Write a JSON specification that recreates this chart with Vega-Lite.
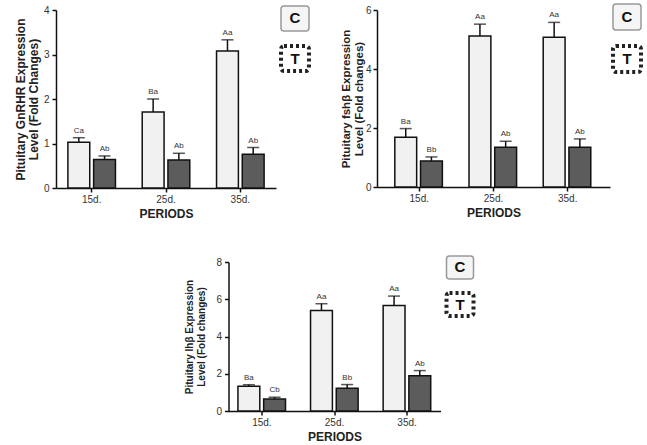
{
  "$schema": "https://vega.github.io/schema/vega-lite/v6.json",
  "background": "white",
  "padding": {"left": 14, "top": 3, "right": 0, "bottom": 0},
  "config": {
    "view": {"stroke": null},
    "font": "Liberation Sans",
    "axis": {"grid": false, "domainColor": "#111", "domainWidth": 1.5, "tickColor": "#111", "tickWidth": 1.5, "tickSize": 4, "labelOverlap": false,
      "labelFont": "Liberation Sans", "labelFontSize": 10, "labelColor": "#333", "titleFont": "Liberation Sans", "titleFontWeight": "bold", "titleColor": "#222"},
    "axisX": {"titleFontSize": 12, "titlePadding": 4, "labelAngle": 0, "labelPadding": 2},
    "axisY": {"titleFontSize": 11, "titleLineHeight": 13, "labelPadding": 3}
  },
  "datasets": {
    "gnrhr": [
      {"period": "15d.", "group": "C", "value": 1.03, "err": 1.13, "sig": "Ca"},
      {"period": "15d.", "group": "T", "value": 0.64, "err": 0.72, "sig": "Ab"},
      {"period": "25d.", "group": "C", "value": 1.71, "err": 2.0, "sig": "Ba"},
      {"period": "25d.", "group": "T", "value": 0.63, "err": 0.78, "sig": "Ab"},
      {"period": "35d.", "group": "C", "value": 3.08, "err": 3.33, "sig": "Aa"},
      {"period": "35d.", "group": "T", "value": 0.76, "err": 0.91, "sig": "Ab"}
    ],
    "fsh": [
      {"period": "15d.", "group": "C", "value": 1.69, "err": 1.98, "sig": "Ba"},
      {"period": "15d.", "group": "T", "value": 0.88, "err": 1.02, "sig": "Bb"},
      {"period": "25d.", "group": "C", "value": 5.12, "err": 5.52, "sig": "Aa"},
      {"period": "25d.", "group": "T", "value": 1.35, "err": 1.55, "sig": "Ab"},
      {"period": "35d.", "group": "C", "value": 5.08, "err": 5.58, "sig": "Aa"},
      {"period": "35d.", "group": "T", "value": 1.35, "err": 1.63, "sig": "Ab"}
    ],
    "lh": [
      {"period": "15d.", "group": "C", "value": 1.33, "err": 1.41, "sig": "Ba"},
      {"period": "15d.", "group": "T", "value": 0.64, "err": 0.74, "sig": "Cb"},
      {"period": "25d.", "group": "C", "value": 5.4, "err": 5.76, "sig": "Aa"},
      {"period": "25d.", "group": "T", "value": 1.22, "err": 1.42, "sig": "Bb"},
      {"period": "35d.", "group": "C", "value": 5.67, "err": 6.17, "sig": "Aa"},
      {"period": "35d.", "group": "T", "value": 1.89, "err": 2.17, "sig": "Ab"}
    ],
    "legend": [
      {"k": "a", "g": "C"},
      {"k": "a", "g": "T"}
    ]
  },
  "center": true,
  "spacing": 36,
  "vconcat": [
    {
      "spacing": 29,
      "hconcat": [
        {
          "spacing": 3,
          "hconcat": [
            {
              "width": 220, "height": 178,
              "data": {"name": "gnrhr"},
              "encoding": {
                "x": {"field": "period", "type": "nominal", "sort": ["15d.", "25d.", "35d."], "scale": {"paddingInner": 0.36, "paddingOuter": 0.16}, "axis": {"title": "PERIODS"}},
                "xOffset": {"field": "group", "type": "nominal", "sort": ["C", "T"], "scale": {"paddingInner": 0.15, "paddingOuter": 0}}
              },
              "layer": [
                {"mark": {"type": "bar", "stroke": "#111", "strokeWidth": 1.5},
                 "encoding": {
                   "y": {"field": "value", "type": "quantitative", "scale": {"domain": [0, 4]}, "axis": {"values": [0, 1, 2, 3, 4], "title": ["Pituitary GnRHR Expression", "Level (Fold Changes)"], "titlePadding": 3, "titleFontSize": 12}},
                   "fill": {"field": "group", "type": "nominal", "scale": {"domain": ["C", "T"], "range": ["#f1f1f1", "#5c5c5c"]}, "legend": null}}},
                {"mark": {"type": "rule", "color": "#111", "strokeWidth": 1.5},
                 "encoding": {"y": {"field": "value", "type": "quantitative", "axis": {"values": [0, 1, 2, 3, 4], "title": ["Pituitary GnRHR Expression", "Level (Fold Changes)"], "titlePadding": 3, "titleFontSize": 12}}, "y2": {"field": "err"}}},
                {"mark": {"type": "tick", "color": "#111", "thickness": 1.5, "size": 12},
                 "encoding": {"y": {"field": "err", "type": "quantitative", "axis": {"values": [0, 1, 2, 3, 4], "title": ["Pituitary GnRHR Expression", "Level (Fold Changes)"], "titlePadding": 3, "titleFontSize": 12}}}},
                {"mark": {"type": "text", "baseline": "bottom", "dy": -3, "fontSize": 8, "color": "#333"},
                 "encoding": {"y": {"field": "err", "type": "quantitative", "axis": {"values": [0, 1, 2, 3, 4], "title": ["Pituitary GnRHR Expression", "Level (Fold Changes)"], "titlePadding": 3, "titleFontSize": 12}}, "text": {"field": "sig"}}}
              ]
            },
            {
              "width": 28, "height": 65,
              "data": {"name": "legend"},
              "encoding": {
                "x": {"field": "k", "type": "nominal", "axis": null, "scale": {"paddingInner": 0, "paddingOuter": 0}},
                "y": {"field": "g", "type": "nominal", "axis": null, "scale": {"domain": ["C", "T"], "paddingInner": 0.38, "paddingOuter": 0, "range": [-4, 61]}}
              },
              "layer": [
                {"transform": [{"filter": "datum.g === 'C'"}], "mark": {"type": "rect", "fill": "#f5f5f5", "stroke": "#999", "strokeWidth": 1.5, "cornerRadius": 3}},
                {"transform": [{"filter": "datum.g === 'T'"}], "mark": {"type": "rect", "fill": "#ffffff", "stroke": "#222", "strokeWidth": 4, "strokeDash": [3, 3], "cornerRadius": 3}},
                {"mark": {"type": "text", "fontSize": 15, "fontWeight": "bold", "color": "#111"}, "encoding": {"text": {"field": "g"}}}
              ]
            }
          ]
        },
        {
          "spacing": 1,
          "hconcat": [
            {
              "width": 233, "height": 177,
              "data": {"name": "fsh"},
              "encoding": {
                "x": {"field": "period", "type": "nominal", "sort": ["15d.", "25d.", "35d."], "scale": {"paddingInner": 0.34, "paddingOuter": 0.24}, "axis": {"title": "PERIODS"}},
                "xOffset": {"field": "group", "type": "nominal", "sort": ["C", "T"], "scale": {"paddingInner": 0.15, "paddingOuter": 0}}
              },
              "layer": [
                {"mark": {"type": "bar", "stroke": "#111", "strokeWidth": 1.5},
                 "encoding": {
                   "y": {"field": "value", "type": "quantitative", "scale": {"domain": [0, 6]}, "axis": {"values": [0, 2, 4, 6], "title": ["Pituitary fshβ Expression", "Level (Fold changes)"], "titlePadding": 1, "titleFontSize": 11.5, "labelPadding": 2}},
                   "fill": {"field": "group", "type": "nominal", "scale": {"domain": ["C", "T"], "range": ["#f1f1f1", "#5c5c5c"]}, "legend": null}}},
                {"mark": {"type": "rule", "color": "#111", "strokeWidth": 1.5},
                 "encoding": {"y": {"field": "value", "type": "quantitative", "axis": {"values": [0, 2, 4, 6], "title": ["Pituitary fshβ Expression", "Level (Fold changes)"], "titlePadding": 1, "titleFontSize": 11.5, "labelPadding": 2}}, "y2": {"field": "err"}}},
                {"mark": {"type": "tick", "color": "#111", "thickness": 1.5, "size": 12},
                 "encoding": {"y": {"field": "err", "type": "quantitative", "axis": {"values": [0, 2, 4, 6], "title": ["Pituitary fshβ Expression", "Level (Fold changes)"], "titlePadding": 1, "titleFontSize": 11.5, "labelPadding": 2}}}},
                {"mark": {"type": "text", "baseline": "bottom", "dy": -3, "fontSize": 8, "color": "#333"},
                 "encoding": {"y": {"field": "err", "type": "quantitative", "axis": {"values": [0, 2, 4, 6], "title": ["Pituitary fshβ Expression", "Level (Fold changes)"], "titlePadding": 1, "titleFontSize": 11.5, "labelPadding": 2}}, "text": {"field": "sig"}}}
              ]
            },
            {
              "width": 35, "height": 65,
              "data": {"name": "legend"},
              "encoding": {
                "x": {"field": "k", "type": "nominal", "axis": null, "scale": {"paddingInner": 0, "paddingOuter": 0.125, "align": 0}},
                "y": {"field": "g", "type": "nominal", "axis": null, "scale": {"domain": ["C", "T"], "paddingInner": 0.38, "paddingOuter": 0, "range": [-6, 62]}}
              },
              "layer": [
                {"transform": [{"filter": "datum.g === 'C'"}], "mark": {"type": "rect", "fill": "#f5f5f5", "stroke": "#999", "strokeWidth": 1.5, "cornerRadius": 3}},
                {"transform": [{"filter": "datum.g === 'T'"}], "mark": {"type": "rect", "fill": "#ffffff", "stroke": "#222", "strokeWidth": 4, "strokeDash": [3, 3], "cornerRadius": 3}},
                {"mark": {"type": "text", "fontSize": 15, "fontWeight": "bold", "color": "#111"}, "encoding": {"text": {"field": "g"}}}
              ]
            }
          ]
        }
      ]
    },
    {
      "spacing": 4,
      "hconcat": [
        {
          "width": 212, "height": 149,
          "data": {"name": "lh"},
          "encoding": {
            "x": {"field": "period", "type": "nominal", "sort": ["15d.", "25d.", "35d."], "scale": {"paddingInner": 0.34, "paddingOuter": 0.13}, "axis": {"title": "PERIODS"}},
            "xOffset": {"field": "group", "type": "nominal", "sort": ["C", "T"], "scale": {"paddingInner": 0.15, "paddingOuter": 0}}
          },
          "layer": [
            {"mark": {"type": "bar", "stroke": "#111", "strokeWidth": 1.5},
             "encoding": {
               "y": {"field": "value", "type": "quantitative", "scale": {"domain": [0, 8]}, "axis": {"values": [0, 2, 4, 6, 8], "tickCount": 5, "title": ["Pituitary lhβ Expression", "Level (Fold changes)"], "titlePadding": 9, "titleFontSize": 10, "titleLineHeight": 12}},
               "fill": {"field": "group", "type": "nominal", "scale": {"domain": ["C", "T"], "range": ["#f1f1f1", "#5c5c5c"]}, "legend": null}}},
            {"mark": {"type": "rule", "color": "#111", "strokeWidth": 1.5},
             "encoding": {"y": {"field": "value", "type": "quantitative", "axis": {"values": [0, 2, 4, 6, 8], "tickCount": 5, "title": ["Pituitary lhβ Expression", "Level (Fold changes)"], "titlePadding": 9, "titleFontSize": 10, "titleLineHeight": 12}}, "y2": {"field": "err"}}},
            {"mark": {"type": "tick", "color": "#111", "thickness": 1.5, "size": 12},
             "encoding": {"y": {"field": "err", "type": "quantitative", "axis": {"values": [0, 2, 4, 6, 8], "tickCount": 5, "title": ["Pituitary lhβ Expression", "Level (Fold changes)"], "titlePadding": 9, "titleFontSize": 10, "titleLineHeight": 12}}}},
            {"mark": {"type": "text", "baseline": "bottom", "dy": -3, "fontSize": 8, "color": "#333"},
             "encoding": {"y": {"field": "err", "type": "quantitative", "axis": {"values": [0, 2, 4, 6, 8], "tickCount": 5, "title": ["Pituitary lhβ Expression", "Level (Fold changes)"], "titlePadding": 9, "titleFontSize": 10, "titleLineHeight": 12}}, "text": {"field": "sig"}}}
          ]
        },
        {
          "width": 27, "height": 60,
          "data": {"name": "legend"},
          "encoding": {
            "x": {"field": "k", "type": "nominal", "axis": null, "scale": {"paddingInner": 0, "paddingOuter": 0}},
            "y": {"field": "g", "type": "nominal", "axis": null, "scale": {"domain": ["C", "T"], "paddingInner": 0.38, "paddingOuter": 0, "range": [-6, 54]}}
          },
          "layer": [
            {"transform": [{"filter": "datum.g === 'C'"}], "mark": {"type": "rect", "fill": "#f5f5f5", "stroke": "#999", "strokeWidth": 1.5, "cornerRadius": 3}},
            {"transform": [{"filter": "datum.g === 'T'"}], "mark": {"type": "rect", "fill": "#ffffff", "stroke": "#222", "strokeWidth": 4, "strokeDash": [3, 3], "cornerRadius": 3}},
            {"mark": {"type": "text", "fontSize": 15, "fontWeight": "bold", "color": "#111"}, "encoding": {"text": {"field": "g"}}}
          ]
        }
      ]
    }
  ]
}
